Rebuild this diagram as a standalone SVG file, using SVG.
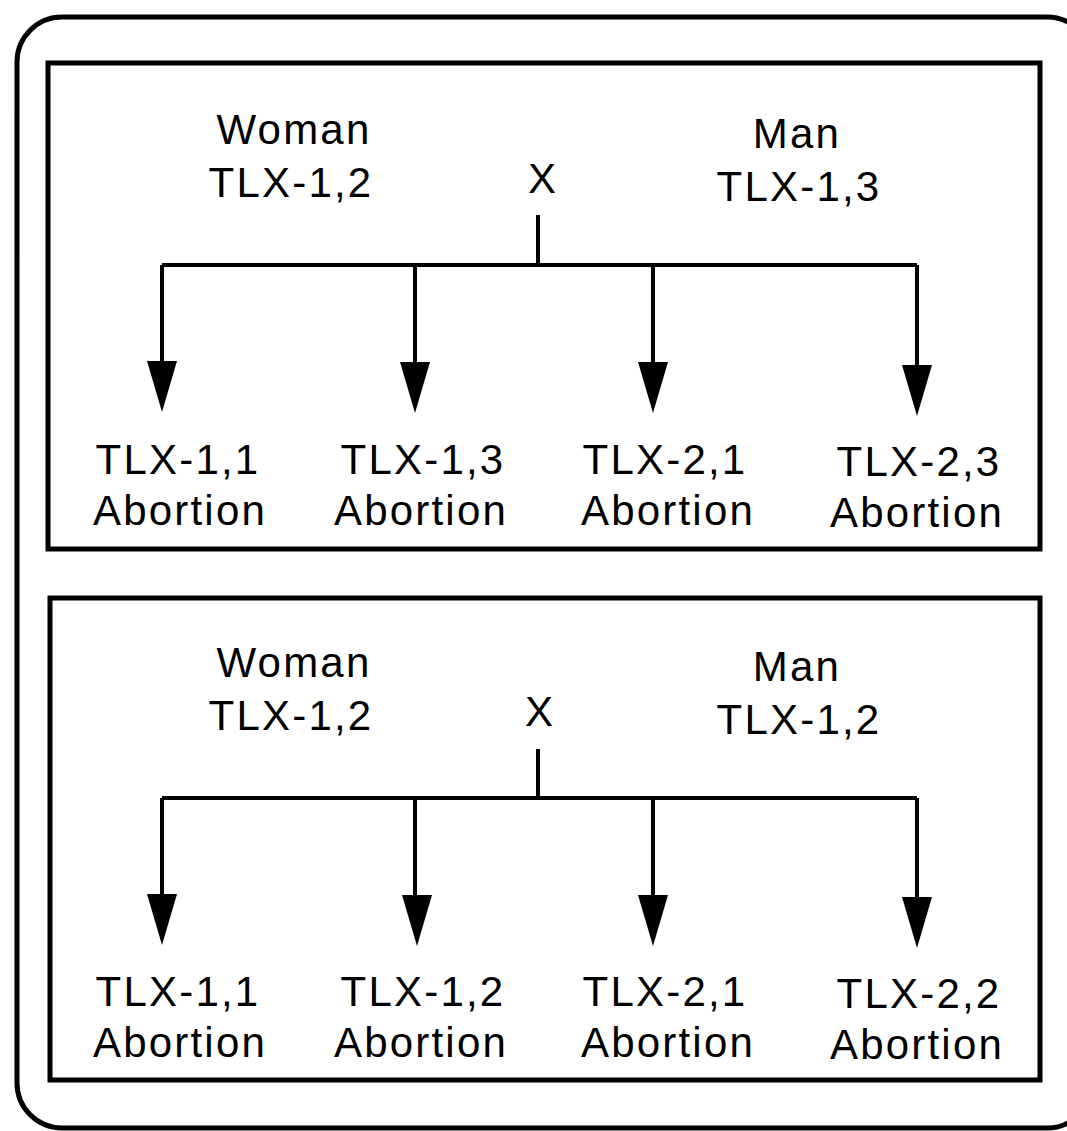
<svg xmlns="http://www.w3.org/2000/svg" width="1067" height="1131" viewBox="0 0 1067 1131">
<style>
.frame{fill:none;stroke:#000;stroke-width:5}
.panel{fill:none;stroke:#000;stroke-width:5}
.line{fill:none;stroke:#000;stroke-width:4}
.head{fill:#000;stroke:none}
text{font-family:"Liberation Sans",Arial,sans-serif;font-size:42px;letter-spacing:2.2px;text-anchor:middle;fill:#000}
</style>
<defs>
<path id="arrowhead" class="head" d="M-15,0 L15,0 L0,51 Z"/>
</defs>
<rect id="outer-frame" class="frame" x="17" y="17" width="1075" height="1111" rx="45" ry="45"/>

<g id="panel-1">
<rect class="panel" x="48" y="63" width="992" height="486"/>
</g>
<g id="panel-2">
<rect class="panel" x="50" y="598" width="990" height="482"/>
</g>

<g id="connectors">
<path class="line" d="M538,215 V265 M162,265 H917 M162,265 V365 M415,265 V365 M653,265 V365 M917,265 V368"/>
<use href="#arrowhead" x="162" y="361"/>
<use href="#arrowhead" x="415" y="362"/>
<use href="#arrowhead" x="653" y="362"/>
<use href="#arrowhead" x="917" y="365"/>
<path class="line" d="M538,749 V798 M162,798 H917 M162,798 V898 M415,798 V898 M653,798 V898 M917,798 V900"/>
<use href="#arrowhead" x="162" y="894"/>
<use href="#arrowhead" x="417" y="895"/>
<use href="#arrowhead" x="653" y="895"/>
<use href="#arrowhead" x="917" y="897"/>
</g>

<g id="woman-1"><text x="294" y="144">Woman</text><text x="291" y="197">TLX-1,2</text></g>
<g id="cross-1"><text x="543" y="193">X</text></g>
<g id="man-1"><text x="797" y="148">Man</text><text x="799" y="201">TLX-1,3</text></g>
<g id="child-1-1"><text x="178" y="474">TLX-1,1</text><text x="180" y="525">Abortion</text></g>
<g id="child-1-2"><text x="423" y="474">TLX-1,3</text><text x="421" y="525">Abortion</text></g>
<g id="child-1-3"><text x="665" y="474">TLX-2,1</text><text x="668" y="525">Abortion</text></g>
<g id="child-1-4"><text x="919" y="476">TLX-2,3</text><text x="917" y="527">Abortion</text></g>

<g id="woman-2"><text x="294" y="677">Woman</text><text x="291" y="730">TLX-1,2</text></g>
<g id="cross-2"><text x="540" y="726">X</text></g>
<g id="man-2"><text x="797" y="681">Man</text><text x="799" y="734">TLX-1,2</text></g>
<g id="child-2-1"><text x="178" y="1006">TLX-1,1</text><text x="180" y="1057">Abortion</text></g>
<g id="child-2-2"><text x="423" y="1006">TLX-1,2</text><text x="421" y="1057">Abortion</text></g>
<g id="child-2-3"><text x="665" y="1006">TLX-2,1</text><text x="668" y="1057">Abortion</text></g>
<g id="child-2-4"><text x="919" y="1008">TLX-2,2</text><text x="917" y="1059">Abortion</text></g>
</svg>
